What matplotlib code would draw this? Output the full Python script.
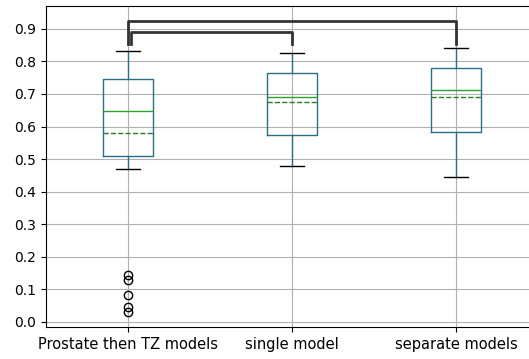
import matplotlib
matplotlib.use("Agg")
import matplotlib.pyplot as plt

labels = ["Prostate then TZ models", "single model", "separate models"]
q1 = [0.511, 0.574, 0.583]
medians = [0.647, 0.692, 0.711]
q3 = [0.745, 0.765, 0.781]
whisk_low = [0.471, 0.479, 0.444]
whisk_high = [0.831, 0.826, 0.840]
means = [0.579, 0.674, 0.692]
fliers = [[0.144, 0.129, 0.083, 0.047, 0.030], [], []]

# significance brackets: (from box, to box, height, leg bottom)
brackets = [(1, 3, 0.925, 0.853), (1, 2, 0.890, 0.855)]

stats = []
for i in range(len(labels)):
    stats.append({
        "label": labels[i], "q1": q1[i], "med": medians[i], "q3": q3[i],
        "whislo": whisk_low[i], "whishi": whisk_high[i],
        "mean": means[i], "fliers": fliers[i],
    })

fig = plt.figure(figsize=(5.29, 3.59), dpi=100)
ax = fig.add_axes([0.087, 0.089, 0.93, 0.894])

ax.bxp(stats, positions=[1, 2, 3], widths=0.3, showmeans=True, meanline=True,
       boxprops=dict(color="#2b6f86"), whiskerprops=dict(color="#2b6f86"),
       capprops=dict(color="black"), medianprops=dict(color="#2ca02c"),
       meanprops=dict(color="#2a7a2a", linestyle="--"),
       flierprops=dict(marker="o", markerfacecolor="none", markeredgecolor="black"))

for start, end, top, bottom in brackets:
    x0 = start + 0.02 if end == 2 else start
    ax.plot([x0, x0, end, end], [bottom, top, top, bottom], color="#333333", lw=2)

ax.set_xlim(0.5, 3.5)
ax.set_ylim(-0.016, 0.97)
ax.set_yticks([0.0, 0.1, 0.2, 0.3, 0.4, 0.5, 0.6, 0.7, 0.8, 0.9])
ax.grid(True, color="#b0b0b0", lw=0.8)
ax.set_axisbelow(True)
ax.tick_params(axis="x", labelsize=10.5)
ax.tick_params(axis="y", labelsize=10)

fig.savefig("out.png", dpi=100)
